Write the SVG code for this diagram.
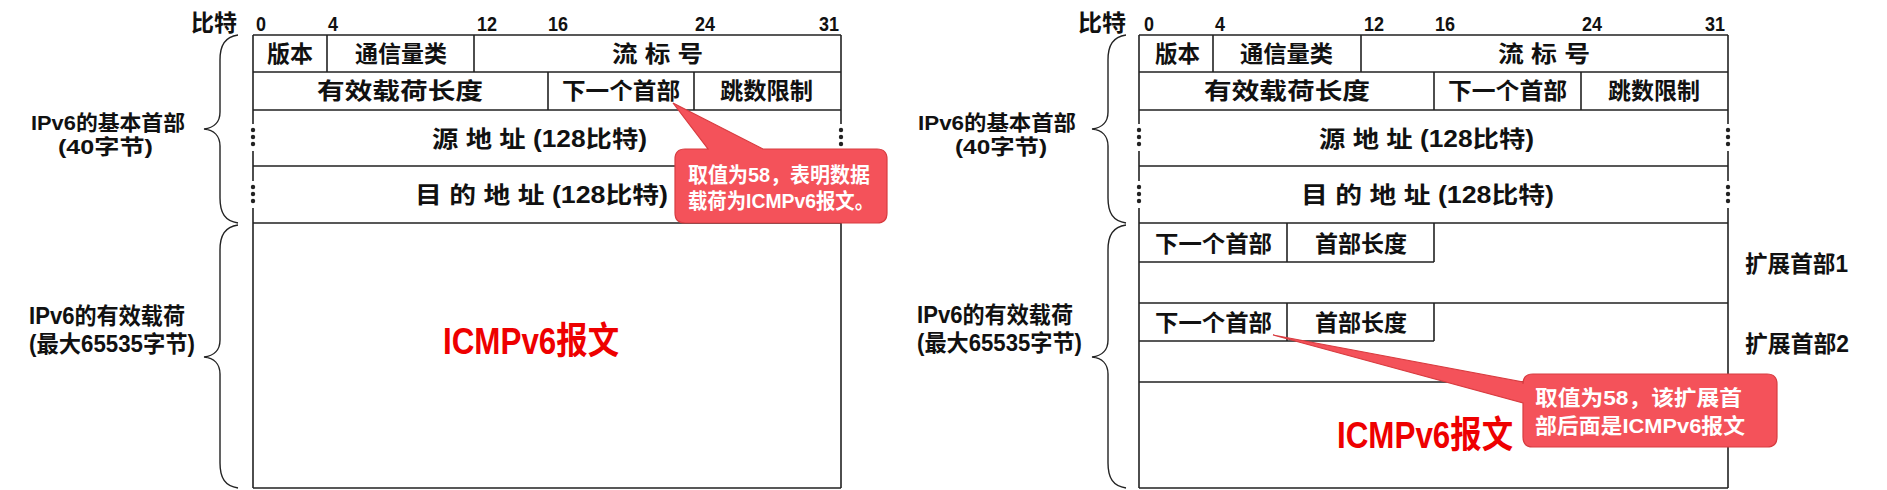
<svg xmlns="http://www.w3.org/2000/svg" width="1887" height="490" viewBox="0 0 1887 490">
<style>
.t{font-family:"Liberation Sans","Noto Sans CJK SC",sans-serif;font-weight:bold;font-size:23px;fill:#111}
.n{font-size:21px}
.lb{font-size:21px}
.w{fill:#fff;font-size:21px}
.r{fill:#EE0000;font-size:37px}
.ln{stroke:#222;stroke-width:1.6;fill:none}
.dot{fill:#222}
.co{fill:#F4525A;stroke:#D83C40;stroke-width:1.2}
.br{stroke:#222;stroke-width:1.4;fill:none}
</style>
<rect width="1887" height="490" fill="#fff"/>

<!-- LEFT DIAGRAM -->
<g id="left-bits">
<text class="t" x="191" y="31" textLength="46" lengthAdjust="spacingAndGlyphs">比特</text>
<text class="t n" x="256" y="31" textLength="10" lengthAdjust="spacingAndGlyphs">0</text>
<text class="t n" x="328" y="31" textLength="10" lengthAdjust="spacingAndGlyphs">4</text>
<text class="t n" x="477" y="31" textLength="20" lengthAdjust="spacingAndGlyphs">12</text>
<text class="t n" x="548" y="31" textLength="20" lengthAdjust="spacingAndGlyphs">16</text>
<text class="t n" x="695" y="31" textLength="20" lengthAdjust="spacingAndGlyphs">24</text>
<text class="t n" x="819" y="31" textLength="20" lengthAdjust="spacingAndGlyphs">31</text>
</g>
<g id="left-frame">
<path class="ln" d="M253,35 H841 M253,72 H841 M253,110 H841 M253,166 H841 M253,223 H841 M253,488 H841 M327,35 V72 M474,35 V72 M548,72 V110 M694,72 V110"/>
<path class="ln" d="M253,35 V124 M253,151 V181 M253,208 V488 M841,35 V124 M841,151 V181 M841,208 V488"/>
<circle class="dot" cx="253" cy="130" r="2.2"/><circle class="dot" cx="253" cy="137" r="2.2"/><circle class="dot" cx="253" cy="144" r="2.2"/>
<circle class="dot" cx="253" cy="187" r="2.2"/><circle class="dot" cx="253" cy="194" r="2.2"/><circle class="dot" cx="253" cy="201" r="2.2"/>
<circle class="dot" cx="841" cy="130" r="2.2"/><circle class="dot" cx="841" cy="137" r="2.2"/><circle class="dot" cx="841" cy="144" r="2.2"/>
<circle class="dot" cx="841" cy="187" r="2.2"/><circle class="dot" cx="841" cy="194" r="2.2"/><circle class="dot" cx="841" cy="201" r="2.2"/>
</g>
<g id="left-version"><text class="t" x="267" y="62" textLength="46" lengthAdjust="spacingAndGlyphs">版本</text></g>
<g id="left-traffic"><text class="t" x="355" y="62" textLength="92" lengthAdjust="spacingAndGlyphs">通信量类</text></g>
<g id="left-flow"><text class="t" x="612" y="62" textLength="91" lengthAdjust="spacingAndGlyphs">流 标 号</text></g>
<g id="left-paylen"><text class="t" x="317" y="99" textLength="166" lengthAdjust="spacingAndGlyphs">有效载荷长度</text></g>
<g id="left-next"><text class="t" x="562" y="99" textLength="118" lengthAdjust="spacingAndGlyphs">下一个首部</text></g>
<g id="left-hop"><text class="t" x="720" y="99" textLength="93" lengthAdjust="spacingAndGlyphs">跳数限制</text></g>
<g id="left-src"><text class="t" x="432" y="147" textLength="215" lengthAdjust="spacingAndGlyphs">源 地 址 (128比特)</text></g>
<g id="left-dst"><text class="t" x="415" y="203" textLength="253" lengthAdjust="spacingAndGlyphs">目 的 地 址 (128比特)</text></g>
<g id="left-payload"><text class="t r" x="443" y="354" textLength="176" lengthAdjust="spacingAndGlyphs">ICMPv6报文</text></g>
<g id="left-labels">
<text class="t lb" x="31" y="130" textLength="154" lengthAdjust="spacingAndGlyphs">IPv6的基本首部</text>
<text class="t lb" x="58" y="154" textLength="95" lengthAdjust="spacingAndGlyphs">(40字节)</text>
<text class="t" x="29" y="324" textLength="156" lengthAdjust="spacingAndGlyphs">IPv6的有效载荷</text>
<text class="t" x="29" y="352" textLength="166" lengthAdjust="spacingAndGlyphs">(最大65535字节)</text>
</g>
<g id="left-callout">
<path class="co" d="M685,149 L708,149 L673,103 L763,149 L877,149 Q887,149 887,159 L887,213 Q887,223 877,223 L685,223 Q675,223 675,213 L675,159 Q675,149 685,149 Z"/>
<text class="t w" x="688" y="182" textLength="182" lengthAdjust="spacingAndGlyphs">取值为58，表明数据</text>
<text class="t w" x="688" y="208" textLength="186" lengthAdjust="spacingAndGlyphs">载荷为ICMPv6报文。</text>
</g>

<!-- RIGHT DIAGRAM -->
<g id="right-bits">
<text class="t" x="1078" y="31" textLength="48" lengthAdjust="spacingAndGlyphs">比特</text>
<text class="t n" x="1144" y="31" textLength="10" lengthAdjust="spacingAndGlyphs">0</text>
<text class="t n" x="1215" y="31" textLength="10" lengthAdjust="spacingAndGlyphs">4</text>
<text class="t n" x="1364" y="31" textLength="20" lengthAdjust="spacingAndGlyphs">12</text>
<text class="t n" x="1435" y="31" textLength="20" lengthAdjust="spacingAndGlyphs">16</text>
<text class="t n" x="1582" y="31" textLength="20" lengthAdjust="spacingAndGlyphs">24</text>
<text class="t n" x="1705" y="31" textLength="20" lengthAdjust="spacingAndGlyphs">31</text>
</g>
<g id="right-frame">
<path class="ln" d="M1139,35 H1728 M1139,72 H1728 M1139,110 H1728 M1139,166 H1728 M1139,223 H1728 M1139,303 H1728 M1139,382 H1728 M1139,488 H1728 M1213,35 V72 M1361,35 V72 M1434,72 V110 M1581,72 V110"/>
<path class="ln" d="M1139,262 H1434 M1287,223 V262 M1434,223 V262 M1139,341 H1434 M1287,303 V341 M1434,303 V341"/>
<path class="ln" d="M1139,35 V124 M1139,151 V181 M1139,208 V488 M1728,35 V124 M1728,151 V181 M1728,208 V488"/>
<circle class="dot" cx="1139" cy="130" r="2.2"/><circle class="dot" cx="1139" cy="137" r="2.2"/><circle class="dot" cx="1139" cy="144" r="2.2"/>
<circle class="dot" cx="1139" cy="187" r="2.2"/><circle class="dot" cx="1139" cy="194" r="2.2"/><circle class="dot" cx="1139" cy="201" r="2.2"/>
<circle class="dot" cx="1728" cy="130" r="2.2"/><circle class="dot" cx="1728" cy="137" r="2.2"/><circle class="dot" cx="1728" cy="144" r="2.2"/>
<circle class="dot" cx="1728" cy="187" r="2.2"/><circle class="dot" cx="1728" cy="194" r="2.2"/><circle class="dot" cx="1728" cy="201" r="2.2"/>
</g>
<g id="right-version"><text class="t" x="1155" y="62" textLength="45" lengthAdjust="spacingAndGlyphs">版本</text></g>
<g id="right-traffic"><text class="t" x="1240" y="62" textLength="93" lengthAdjust="spacingAndGlyphs">通信量类</text></g>
<g id="right-flow"><text class="t" x="1498" y="62" textLength="92" lengthAdjust="spacingAndGlyphs">流 标 号</text></g>
<g id="right-paylen"><text class="t" x="1204" y="99" textLength="166" lengthAdjust="spacingAndGlyphs">有效载荷长度</text></g>
<g id="right-next"><text class="t" x="1448" y="99" textLength="119" lengthAdjust="spacingAndGlyphs">下一个首部</text></g>
<g id="right-hop"><text class="t" x="1608" y="99" textLength="92" lengthAdjust="spacingAndGlyphs">跳数限制</text></g>
<g id="right-src"><text class="t" x="1319" y="147" textLength="215" lengthAdjust="spacingAndGlyphs">源 地 址 (128比特)</text></g>
<g id="right-dst"><text class="t" x="1301" y="203" textLength="253" lengthAdjust="spacingAndGlyphs">目 的 地 址 (128比特)</text></g>
<g id="ext1">
<text class="t" x="1155" y="252" textLength="117" lengthAdjust="spacingAndGlyphs">下一个首部</text>
<text class="t" x="1315" y="252" textLength="92" lengthAdjust="spacingAndGlyphs">首部长度</text>
<text class="t" x="1745" y="272" textLength="103" lengthAdjust="spacingAndGlyphs">扩展首部1</text>
</g>
<g id="ext2">
<text class="t" x="1155" y="331" textLength="117" lengthAdjust="spacingAndGlyphs">下一个首部</text>
<text class="t" x="1315" y="331" textLength="92" lengthAdjust="spacingAndGlyphs">首部长度</text>
<text class="t" x="1745" y="352" textLength="104" lengthAdjust="spacingAndGlyphs">扩展首部2</text>
</g>
<g id="right-payload"><text class="t r" x="1337" y="448" textLength="176" lengthAdjust="spacingAndGlyphs">ICMPv6报文</text></g>
<g id="right-labels">
<text class="t lb" x="918" y="130" textLength="158" lengthAdjust="spacingAndGlyphs">IPv6的基本首部</text>
<text class="t lb" x="955" y="154" textLength="92" lengthAdjust="spacingAndGlyphs">(40字节)</text>
<text class="t" x="917" y="323" textLength="156" lengthAdjust="spacingAndGlyphs">IPv6的有效载荷</text>
<text class="t" x="917" y="351" textLength="165" lengthAdjust="spacingAndGlyphs">(最大65535字节)</text>
</g>
<g id="right-callout">
<path class="co" d="M1533,374 L1767,374 Q1777,374 1777,384 L1777,437 Q1777,447 1767,447 L1533,447 Q1523,447 1523,437 L1523,403 L1273,335 L1523,382 L1523,384 Q1523,374 1533,374 Z"/>
<text class="t w" x="1535" y="405" textLength="207" lengthAdjust="spacingAndGlyphs">取值为58，该扩展首</text>
<text class="t w" x="1535" y="433" textLength="210" lengthAdjust="spacingAndGlyphs">部后面是ICMPv6报文</text>
</g>

<g id="connectors">
<path class="br" d="M238,35 C225,37 220,45 220,60 L220,112 C220,122 214,128 204,129 C214,130 220,136 220,146 L220,198 C220,213 225,221 238,223"/>
<path class="br" d="M238,225 C225,227 220,235 220,250 L220,340 C220,350 214,356 204,357 C214,358 220,364 220,374 L220,463 C220,478 225,486 238,488"/>
<path class="br" d="M1126,35 C1113,37 1108,45 1108,60 L1108,112 C1108,122 1102,128 1092,129 C1102,130 1108,136 1108,146 L1108,198 C1108,213 1113,221 1126,223"/>
<path class="br" d="M1126,225 C1113,227 1108,235 1108,250 L1108,340 C1108,350 1102,356 1092,357 C1102,358 1108,364 1108,374 L1108,463 C1108,478 1113,486 1126,488"/>
</g>
</svg>
